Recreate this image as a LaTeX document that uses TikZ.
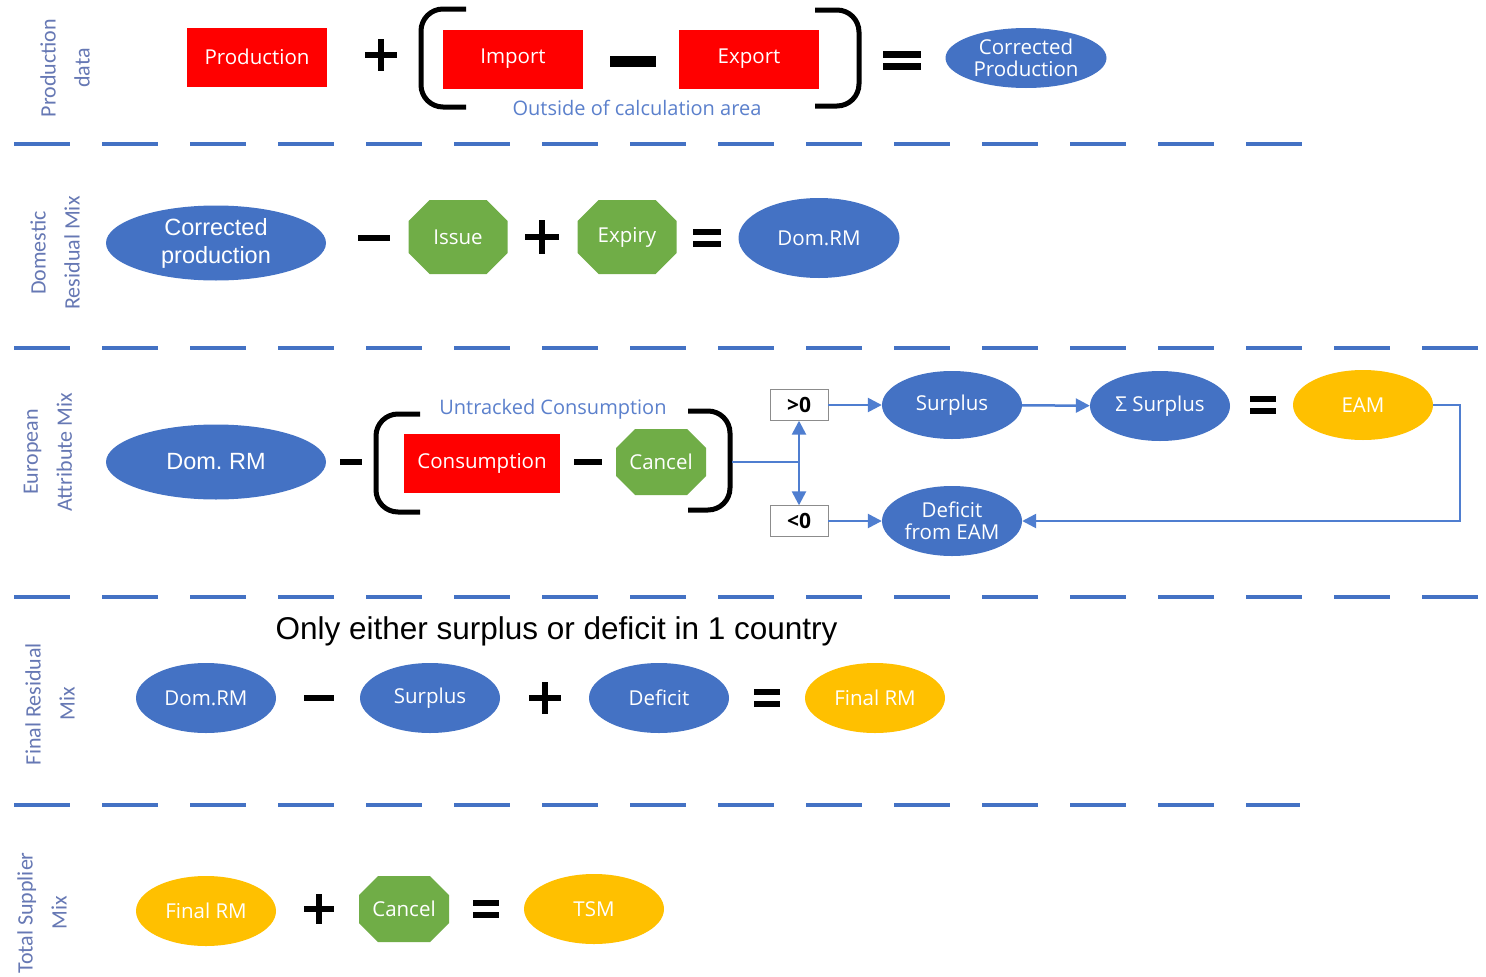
\documentclass[tikz,border=0pt]{standalone}
\usepackage{fontspec}
\setmainfont{Open Sans}
\newfontfamily\arialfont{Liberation Sans}
\newfontfamily\sidefont{Carlito}
\usetikzlibrary{shapes.geometric,arrows.meta}
\definecolor{cblue}{HTML}{4472C4}
\definecolor{cline}{HTML}{4F7ED0}
\definecolor{cred}{HTML}{FF0000}
\definecolor{cgreen}{HTML}{70AD47}
\definecolor{cyellow}{HTML}{FFC000}
\definecolor{cside}{HTML}{6678B4}
\definecolor{cnote}{HTML}{5B80CC}
% green octagon inside the node box, cut by #1 across and #2 down
\newcommand\octafill[2]{%
  \fill[cgreen] ([xshift=#1]path picture bounding box.north west)
    -- ([xshift=-#1]path picture bounding box.north east)
    -- ([yshift=-#2]path picture bounding box.north east)
    -- ([yshift=#2]path picture bounding box.south east)
    -- ([xshift=-#1]path picture bounding box.south east)
    -- ([xshift=#1]path picture bounding box.south west)
    -- ([yshift=#2]path picture bounding box.south west)
    -- ([yshift=-#2]path picture bounding box.north west) -- cycle;}

\begin{document}
\begin{tikzpicture}[x=1pt,y=-1pt,
  redbox/.style={fill=cred,text=white,minimum width=140pt,minimum height=59pt,
    inner sep=0pt,font=\fontsize{20.5}{22}\selectfont},
  oval/.style={ellipse,fill=cblue,text=white,minimum width=140pt,minimum height=70pt,
    inner sep=0pt,align=center,font=\fontsize{20.5}{22}\selectfont},
  bigoval/.style={oval,minimum width=220pt,minimum height=75pt,
    font=\arialfont\fontsize{23.5}{28}\selectfont},
  goldoval/.style={oval,fill=cyellow},
  octa/.style={minimum width=90pt,minimum height=66pt,inner sep=0pt,text=white,
    font=\fontsize{20.5}{22}\selectfont,path picture={\octafill{19pt}{19pt}}},
  bigocta/.style={octa,minimum width=99pt,minimum height=74pt,
    path picture={\octafill{21pt}{21pt}}},
  sidelabel/.style={rotate=90,align=center,text=cside,font=\sidefont\fontsize{22}{34}\selectfont},
  note/.style={text=cnote,font=\fontsize{20}{22}\selectfont},
  signbox/.style={draw=black!45,fill=white,minimum width=58pt,minimum height=31pt,
    inner sep=0pt,font=\bfseries\fontsize{21}{22}\selectfont},
  sep/.style={cblue,line width=4pt,dash pattern=on 56pt off 32pt},
  brk/.style={line width=5pt,rounded corners=22pt},
  flow/.style={cline,line width=2.5pt,-{Triangle[length=14pt,width=14pt]}},
  op/.style={line width=6pt},
  opplus/.pic={\draw (-#1,0) -- (#1,0) (0,-#1) -- (0,#1);},
  opminus/.pic={\draw (-#1,0) -- (#1,0);},
  opeq/.pic={\draw (-#1,-6) -- (#1,-6) (-#1,6) -- (#1,6);}]
  \useasboundingbox[fill=white] (0,0) rectangle (1486,977);

  % production data
  \node[sidelabel] (l1) at (65,68) {Production\\data};
  \node[redbox] (prod) at (257,57) {Production};
  \pic[op] at (381,55) {opplus=16};
  \draw[brk] (466,9) -- (421,9) -- (421,107) -- (466,107);
  \node[redbox] (imp) at (513,59) {Import};
  \pic[line width=11pt] at (633,61) {opminus=23};
  \node[redbox] (exp) at (749,59) {Export};
  \draw[brk] (815,10) -- (859,10) -- (859,106) -- (815,106);
  \node[note] (out) at (637,108) {Outside of calculation area};
  \pic[line width=7pt] at (902,60) {opeq=19};
  \node[oval,minimum width=161pt,minimum height=60pt] (cprod) at (1026,58) {Corrected\\Production};
  \draw[sep] (14,144) -- (1305,144);

  % domestic residual mix
  \node[sidelabel] (l2) at (55,253) {Domestic\\Residual Mix};
  \node[bigoval] (cprod2) at (216,243) {Corrected\\production};
  \pic[op] at (374,238) {opminus=16};
  \node[bigocta] (iss) at (458,237) {Issue};
  \pic[op] at (542,237) {opplus=17};
  \node[bigocta] (expi) at (627,237) {Expiry};
  \pic[op] at (707,238) {opeq=14};
  \node[oval,minimum width=161pt,minimum height=80pt] (drm) at (819,238) {Dom.RM};
  \draw[sep] (14,348) -- (1486,348);

  % european attribute mix
  \node[sidelabel] (l3) at (48,452) {European\\Attribute Mix};
  \node[bigoval] (drm2) at (216,462) {Dom.\ RM};
  \pic[op] at (351,462) {opminus=11};
  \draw[brk] (420,414) -- (376,414) -- (376,512) -- (420,512);
  \node[note] (untr) at (553,409) {Untracked Consumption};
  \node[redbox,minimum width=156pt] (cons) at (482,463) {Consumption};
  \pic[op] at (588,462) {opminus=14};
  \node[octa] (canc) at (661,462) {Cancel};
  \draw[brk] (688,411) -- (730,411) -- (730,510) -- (688,510);
  \coordinate (rb) at (732,462);
  \coordinate (jn) at (799,462);
  \node[signbox] (pos) at (799,405) {>0};
  \node[signbox] (neg) at (799,521) {<0};
  \node[oval,minimum height=68pt] (surp) at (952,405) {Surplus};
  \node[oval] (ssurp) at (1160,406) {Σ Surplus};
  \pic[op] at (1263,405) {opeq=13};
  \node[goldoval] (eam) at (1363,405) {EAM};
  \node[oval] (defi) at (952,521) {Deficit\\from EAM};
  \draw[cline,line width=2.5pt] (rb) -- (jn);
  \draw[flow] (jn) -- (pos.south);
  \draw[flow] (jn) -- (neg.north);
  \draw[flow] (pos) -- (surp);
  \draw[flow] (surp) -- (ssurp);
  \draw[flow] (neg) -- (defi);
  \draw[flow] (eam.east) -- (1460,405) |- (defi.east);
  \draw[sep] (14,597) -- (1486,597);

  % final residual mix
  \node[anchor=west,font=\arialfont\fontsize{31.5}{34}\selectfont] (only) at (272,631)
    {Only either surplus or deficit in 1 country};
  \node[sidelabel] (l4) at (50,704) {Final Residual\\Mix};
  \node[oval] (drm3) at (206,698) {Dom.RM};
  \pic[op] at (319,698) {opminus=15};
  \node[oval] (surp2) at (430,698) {Surplus};
  \pic[op] at (545,698) {opplus=16};
  \node[oval] (defi2) at (659,698) {Deficit};
  \pic[op] at (767,698) {opeq=13};
  \node[goldoval] (frm) at (875,698) {Final RM};
  \draw[sep] (14,805) -- (1300,805);

  % total supplier mix
  \node[sidelabel] (l5) at (42,913) {Total Supplier\\Mix};
  \node[goldoval] (frm2) at (206,911) {Final RM};
  \pic[op] at (319,909) {opplus=15};
  \node[octa] (canc2) at (404,909) {Cancel};
  \pic[op] at (486,909) {opeq=13};
  \node[goldoval] (tsm) at (594,909) {TSM};
\end{tikzpicture}
\end{document}
